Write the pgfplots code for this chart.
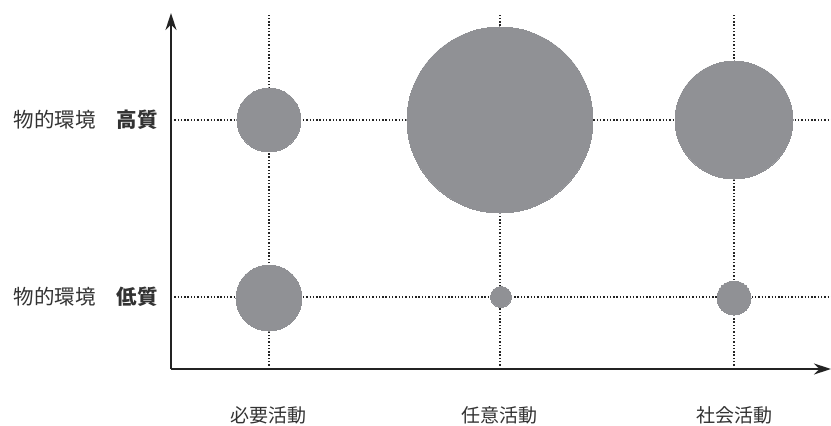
\documentclass[border=0pt]{standalone}
\usepackage{pgfplots}
\pgfplotsset{compat=1.18}
\usepackage{fontspec}
\setmainfont{Noto Sans CJK JP}
\usetikzlibrary{arrows.meta}
\definecolor{bubble}{RGB}{144,145,149}
\definecolor{ink}{RGB}{50,50,50}
\definecolor{axisc}{RGB}{35,35,35}
\begin{document}
\begin{tikzpicture}
\begin{axis}[
  x=1pt, y=1pt,
  xmin=171, xmax=831, ymin=57, ymax=413,
  axis lines=left,
  axis line style={line width=1.8pt, draw=axisc, -{Stealth[length=17pt,width=11pt]}},
  xtick={269,500,734},
  xticklabels={必要活動,任意活動,社会活動},
  ytick={129,306},
  yticklabels={物的環境\hspace{21pt}\textbf{低質}, 物的環境\hspace{21pt}\textbf{高質}},
  major tick length=0pt,
  xticklabel style={anchor=center, yshift=-46pt, font=\fontsize{19}{22}\selectfont, text=ink, inner sep=0pt},
  yticklabel style={anchor=east, xshift=-13pt, font=\fontsize{20.5}{24}\selectfont, text=ink, inner sep=0pt},
  xmajorgrids, ymajorgrids,
  grid style={line width=1.5pt, draw=axisc, dash pattern=on 1.4pt off 1.9pt},
  clip=false,
]
\addplot[scatter, only marks, mark=*, point meta=explicit,
  scatter/use mapped color={draw=bubble, fill=bubble},
  mark options={line width=0pt},
  visualization depends on={\thisrow{r} \as \rad},
  scatter/@pre marker code/.append style={/tikz/mark size=\rad}]
  table[x=x, y=y, meta=r] {
x y r
269 306 32
500 306 93
734 306 59
269 128 33
501 129 10.5
734 128 17
};
\coordinate (BL) at (axis cs:0,0);
\coordinate (TR) at (axis cs:831,426);
\end{axis}
\pgfresetboundingbox
\path[use as bounding box] (BL) rectangle (TR);
\end{tikzpicture}
\end{document}
